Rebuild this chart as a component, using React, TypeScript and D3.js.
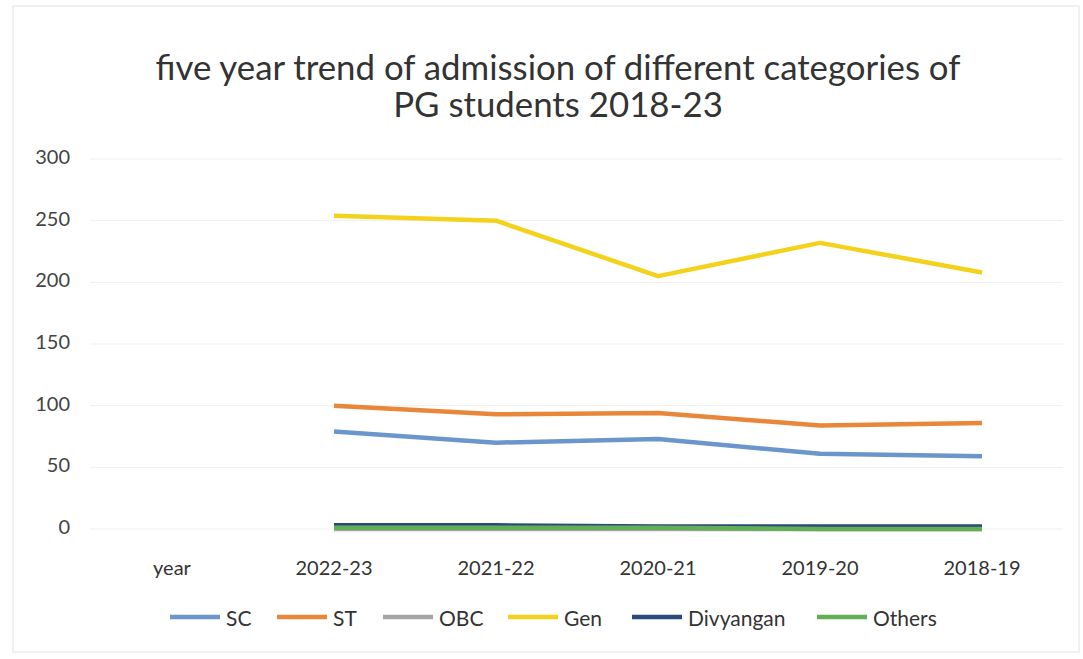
import React from "react";
import * as d3 from "d3";

const categories = ["year", "2022-23", "2021-22", "2020-21", "2019-20", "2018-19"];
const yearCats = ["2022-23", "2021-22", "2020-21", "2019-20", "2018-19"];
const seriesNames = ["SC", "ST", "OBC", "Gen", "Divyangan", "Others"];
const scValues = [79, 70, 73, 61, 59];
const stValues = [100, 93, 94, 84, 86];
const obcValues = [0, 0, 0, 0, 0];
const genValues = [254, 250, 205, 232, 208];
const divyanganValues = [3, 3, 2, 2, 2];
const othersValues = [1, 1, 1, 0, 0];
const yTicks = [0, 50, 100, 150, 200, 250, 300];
const colors = ["#6A96CC", "#E8873A", "#A5A5A5", "#F4D21C", "#2A4A7E", "#62AE55"];
const titleLines = ["five year trend of admission of different categories of", "PG students 2018-23"];

const W = 1083;
const H = 659;
const FONT = "Lato, 'Open Sans', sans-serif";

export default function App() {
  const x = d3.scalePoint<string>().domain(categories).range([172, 982]);
  const y = d3.scaleLinear().domain([0, 300]).range([529, 159]);
  const allValues = [scValues, stValues, obcValues, genValues, divyanganValues, othersValues];
  const line = d3
    .line<number>()
    .x((_, i) => x(yearCats[i]) as number)
    .y((d) => y(d));

  const legendX = [170, 277, 383, 508, 632, 817];
  const legendY = 617;

  return (
    <svg
      width={W}
      height={H}
      style={{ position: "absolute", left: 0, top: 0, background: "#fff" }}
      fontFamily={FONT}
    >
      <rect x={0} y={0} width={W} height={H} fill="#fff" />
      <rect x={13} y={6} width={1066} height={646} fill="none" stroke="#ececec" strokeWidth={1.5} />
      {titleLines.map((t, i) => (
        <text
          key={t}
          x={558}
          y={66 + i * 37}
          textAnchor="middle"
          dominantBaseline="central"
          fontSize={34.8}
          fill="#333"
        >
          {t}
        </text>
      ))}
      {yTicks.map((t) => (
        <g key={t}>
          <line x1={90} x2={1063} y1={y(t)} y2={y(t)} stroke="#efefef" strokeWidth={1} />
          <text
            x={70}
            y={y(t) - 3}
            textAnchor="end"
            dominantBaseline="central"
            fontSize={20}
            fill="#444"
          >
            {t}
          </text>
        </g>
      ))}
      {categories.map((c) => (
        <text
          key={c}
          x={x(c) as number}
          y={567}
          textAnchor="middle"
          dominantBaseline="central"
          fontSize={20}
          fill="#333"
        >
          {c}
        </text>
      ))}
      {allValues.map((vals, i) => (
        <path
          key={seriesNames[i]}
          d={line(vals) || ""}
          fill="none"
          stroke={colors[i]}
          strokeWidth={4.5}
          strokeLinejoin="round"
        />
      ))}
      {seriesNames.map((s, i) => (
        <g key={s}>
          <line
            x1={legendX[i]}
            x2={legendX[i] + 50}
            y1={legendY}
            y2={legendY}
            stroke={colors[i]}
            strokeWidth={4.5}
          />
          <text
            x={legendX[i] + 56}
            y={legendY}
            dominantBaseline="central"
            fontSize={21}
            fill="#333"
          >
            {s}
          </text>
        </g>
      ))}
    </svg>
  );
}
